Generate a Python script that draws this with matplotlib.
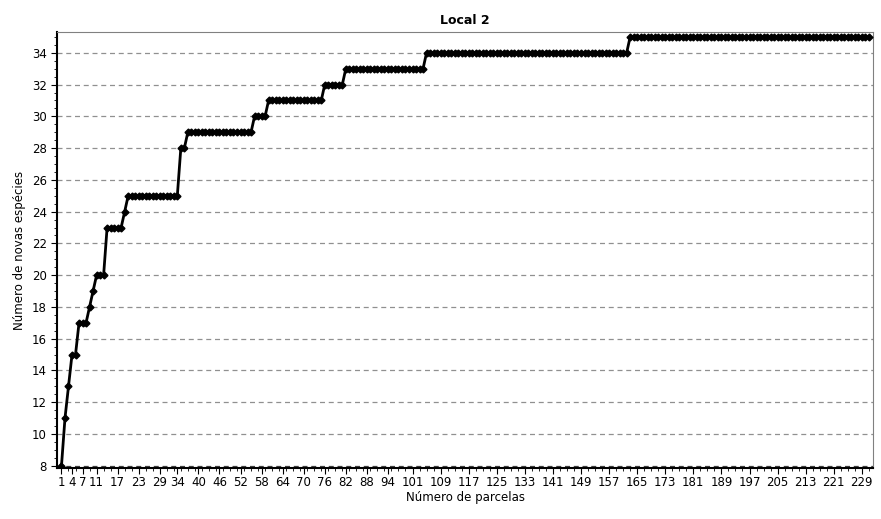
import numpy as np
import matplotlib
matplotlib.use("Agg")
import matplotlib.pyplot as plt

# Species count levels and how many consecutive plots stay at each level.
levels = [8, 11, 13, 15, 17, 18, 19, 20, 23, 24, 25, 28, 29, 30, 31, 32, 33, 34, 35]
run_lengths = [1, 1, 1, 2, 3, 1, 1, 3, 5, 1, 15, 2, 19, 4, 16, 6, 23, 58, 69]
tick_labels = [1, 4, 7, 11, 17, 23, 29, 34, 40, 46, 52, 58, 64, 70, 76, 82, 88, 94, 101,
               109, 117, 125, 133, 141, 149, 157, 165, 173, 181, 189, 197, 205, 213, 221, 229]

species = np.repeat(levels, run_lengths)
parcels = np.arange(1, len(species) + 1)

fig = plt.figure(figsize=(8.81, 5.19), dpi=100)
ax = fig.add_axes([0.065, 0.098, 0.926, 0.840])

for y in range(8, 36, 2):
    ax.axhline(y, color="#909090" if y > 8 else "#404040", linestyle=(0, (4, 3)), linewidth=0.9, zorder=0)

ax.plot(parcels, species, color="black", linewidth=2, marker="D", markersize=3.5, zorder=3)

ax.set_xlim(-0.2, 232.2)
ax.set_ylim(7.85, 35.3)
ax.set_xticks(tick_labels)
ax.set_xticklabels([str(t) for t in tick_labels], fontsize=8.5)
ax.set_xticks(range(1, 232, 2), minor=True)
ax.set_yticks(range(8, 36, 2))
ax.set_yticks(np.arange(8, 35.5, 0.5), minor=True)
ax.tick_params(axis="y", labelsize=8.5, length=4)
ax.tick_params(axis="x", length=4, pad=2)
ax.tick_params(which="minor", length=2)
for side in ["top", "right"]:
    ax.spines[side].set_color("#808080")
ax.spines["bottom"].set_linewidth(1.5)
ax.spines["left"].set_linewidth(1.5)

ax.set_title("Local 2", fontsize=9, fontweight="bold", pad=6)
ax.set_xlabel("Número de parcelas", fontsize=8.5, labelpad=1)
ax.set_ylabel("Número de novas espécies", fontsize=8.5)

fig.savefig("out.png", dpi=100)
